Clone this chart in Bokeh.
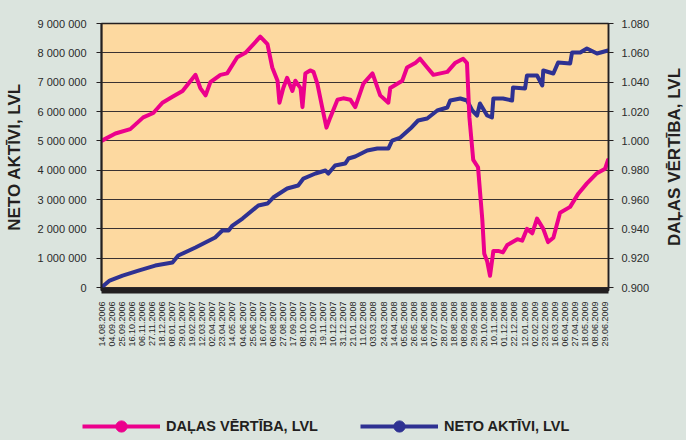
import math
from datetime import datetime
import pandas as pd
from bokeh.plotting import figure
from bokeh.layouts import column, row
from bokeh.models import (Range1d, LinearAxis, FixedTicker, CustomJSTickFormatter,
                          NumeralTickFormatter, Legend, LegendItem, ColumnDataSource,
                          GlobalInlineStyleSheet)
from bokeh.core.properties import value
from bokeh.embed import file_html
from bokeh.resources import INLINE

# ---- data ----
unit_dates = [
    "2006-08-14", "2006-09-12", "2006-10-13", "2006-11-09", "2006-11-30", "2006-12-19", "2007-01-09",
    "2007-01-30", "2007-02-11", "2007-02-26", "2007-03-08", "2007-03-19", "2007-03-29",
    "2007-04-19", "2007-05-03", "2007-05-24", "2007-06-10", "2007-06-27", "2007-07-11",
    "2007-07-26", "2007-08-05", "2007-08-16", "2007-08-20", "2007-08-28", "2007-09-05",
    "2007-09-16", "2007-09-22", "2007-10-03", "2007-10-07", "2007-10-13", "2007-10-23",
    "2007-10-30", "2007-11-07", "2007-11-17", "2007-11-26", "2007-12-04", "2007-12-19",
    "2007-12-31", "2008-01-15", "2008-01-25", "2008-02-11", "2008-03-01", "2008-03-17",
    "2008-04-03", "2008-04-07", "2008-05-02", "2008-05-12", "2008-05-29", "2008-06-08",
    "2008-06-23", "2008-07-06", "2008-08-04", "2008-08-20", "2008-09-06", "2008-09-14",
    "2008-09-19", "2008-09-27", "2008-10-07", "2008-10-16", "2008-10-20", "2008-10-26",
    "2008-11-01", "2008-11-08", "2008-11-18", "2008-11-28", "2008-12-07", "2008-12-28",
    "2009-01-07", "2009-01-17", "2009-01-28", "2009-02-07", "2009-02-20", "2009-03-02",
    "2009-03-13", "2009-03-27", "2009-04-17", "2009-05-04", "2009-05-22", "2009-06-12",
    "2009-06-29", "2009-07-05",
]
unit_values = [
    1.000, 1.005, 1.008, 1.016, 1.019, 1.026, 1.030,
    1.034, 1.039, 1.045, 1.036, 1.031, 1.040,
    1.045, 1.046, 1.057, 1.060, 1.066, 1.071,
    1.066, 1.050, 1.041, 1.026, 1.036, 1.043,
    1.034, 1.041, 1.036, 1.023, 1.046, 1.048,
    1.047, 1.039, 1.023, 1.009, 1.016, 1.028,
    1.029, 1.028, 1.023, 1.039, 1.046, 1.031,
    1.026, 1.036, 1.041, 1.050, 1.053, 1.056,
    1.050, 1.045, 1.047, 1.053, 1.056, 1.053,
    1.016, 0.987, 0.982, 0.946, 0.923, 0.918,
    0.908, 0.925, 0.925, 0.924, 0.929, 0.933,
    0.932, 0.940, 0.937, 0.947, 0.940, 0.931,
    0.934, 0.951, 0.955, 0.964, 0.971, 0.978,
    0.981, 0.987,
]

asset_dates = [
    "2006-08-14", "2006-08-31", "2006-09-27", "2006-10-30", "2006-12-04", "2007-01-09",
    "2007-01-21", "2007-02-26", "2007-04-08", "2007-04-23", "2007-05-06", "2007-05-14",
    "2007-06-04", "2007-07-07", "2007-07-26", "2007-08-07", "2007-09-05", "2007-09-28",
    "2007-10-09", "2007-11-03", "2007-11-24", "2007-11-30", "2007-12-14", "2008-01-04",
    "2008-01-11", "2008-01-25", "2008-02-19", "2008-03-11", "2008-04-03", "2008-04-11",
    "2008-04-28", "2008-05-19", "2008-06-04", "2008-06-23", "2008-07-14", "2008-08-04",
    "2008-08-10", "2008-08-31", "2008-09-14", "2008-09-25", "2008-10-05", "2008-10-11",
    "2008-10-26", "2008-11-05", "2008-11-08", "2008-11-28", "2008-12-17", "2008-12-19",
    "2009-01-13", "2009-01-17", "2009-02-07", "2009-02-18", "2009-02-20", "2009-03-13",
    "2009-03-23", "2009-04-17", "2009-04-21", "2009-05-08", "2009-05-22", "2009-06-12",
    "2009-07-05",
]
asset_values = [
    0, 239000, 409000, 580000, 750000, 852000,
    1091000, 1364000, 1705000, 1943000, 1943000, 2114000,
    2353000, 2796000, 2864000, 3069000, 3375000, 3478000,
    3716000, 3887000, 3989000, 3887000, 4160000, 4228000,
    4398000, 4466000, 4671000, 4739000, 4739000, 5012000,
    5114000, 5421000, 5694000, 5762000, 6035000, 6137000,
    6376000, 6444000, 6376000, 6035000, 5864000, 6273000,
    5864000, 5796000, 6444000, 6444000, 6376000, 6819000,
    6785000, 7228000, 7228000, 6887000, 7399000, 7296000,
    7671000, 7637000, 8012000, 8012000, 8149000, 7978000,
    8080000,
]

tick_labels = [
    "14.08.2006", "04.09.2006", "25.09.2006", "16.10.2006", "06.11.2006", "27.11.2006",
    "18.12.2006", "08.01.2007", "29.01.2007", "19.02.2007", "12.03.2007", "02.04.2007",
    "23.04.2007", "14.05.2007", "04.06.2007", "25.06.2007", "16.07.2007", "06.08.2007",
    "27.08.2007", "17.09.2007", "08.10.2007", "29.10.2007", "19.11.2007", "10.12.2007",
    "31.12.2007", "21.01.2008", "11.02.2008", "03.03.2008", "24.03.2008", "14.04.2008",
    "05.05.2008", "26.05.2008", "16.06.2008", "07.07.2008", "28.07.2008", "18.08.2008",
    "08.09.2008", "29.09.2008", "20.10.2008", "10.11.2008", "01.12.2008", "22.12.2008",
    "12.01.2009", "02.02.2009", "23.02.2009", "16.03.2009", "06.04.2009", "27.04.2009",
    "18.05.2009", "08.06.2009", "29.06.2009",
]
left_ticks = [0, 1000000, 2000000, 3000000, 4000000, 5000000, 6000000, 7000000, 8000000, 9000000]
right_ticks = [0.90, 0.92, 0.94, 0.96, 0.98, 1.00, 1.02, 1.04, 1.06, 1.08]

unit_label = "DAĻAS VĒRTĪBA, LVL"
asset_label = "NETO AKTĪVI, LVL"

# ---- styling ----
BG = "#dbe4de"
PLOT_BG = "#fdd9a0"
PINK = "#ec008c"
BLUE = "#2e3192"
DARK = "#231f20"
TXT = "#2a2a2a"
FONT = "Liberation Sans"

EPOCH = datetime(1970, 1, 1)
def ms(d):
    return (d - EPOCH).total_seconds() * 1000.0

tick_ms = [ms(datetime.strptime(t, "%d.%m.%Y")) for t in tick_labels]

unit_range = Range1d(0.898, 1.08)

p = figure(width=662, height=400, x_axis_type="datetime", output_backend="svg",
           toolbar_location=None,
           x_range=Range1d(datetime(2006, 8, 14), datetime(2009, 7, 6)),
           y_range=Range1d(-100000, 9000000),
           min_border_left=101, min_border_right=54, min_border_top=23, min_border_bottom=110)
p.extra_y_ranges = {"unit": unit_range}
p.background_fill_color = PLOT_BG
p.border_fill_color = BG
p.outline_line_color = DARK
p.outline_line_width = 1.5

p.xgrid.grid_line_color = None
p.ygrid.ticker = FixedTicker(ticks=left_ticks)
p.ygrid.grid_line_color = "#3a3232"
p.ygrid.grid_line_width = 1.2

# x axis
xa = p.below[0]
xa.ticker = FixedTicker(ticks=tick_ms)
xa.major_label_overrides = {t: s for t, s in zip(tick_ms, tick_labels)}
xa.major_label_orientation = math.pi / 2
xa.major_label_text_font = FONT
xa.major_label_text_font_size = "9px"
xa.major_label_text_color = TXT
xa.major_label_standoff = 11
xa.major_tick_out = 0
xa.major_tick_in = 0
xa.major_tick_line_color = None
xa.minor_tick_line_color = None
xa.axis_line_color = DARK
xa.axis_line_width = 6

# left axis
ya = p.left[0]
ya.ticker = FixedTicker(ticks=left_ticks)
ya.formatter = CustomJSTickFormatter(
    code="return Math.round(tick).toString().replace(/\\B(?=(\\d{3})+(?!\\d))/g, ' ');")
ya.major_label_text_font = FONT
ya.major_label_text_font_size = "11px"
ya.major_label_text_color = TXT
ya.major_tick_out = 5
ya.major_tick_in = 0
ya.major_tick_line_color = DARK
ya.minor_tick_line_color = None
ya.axis_line_color = DARK
ya.axis_line_width = 2
ya.major_label_standoff = 10
ya.axis_label = asset_label
ya.axis_label_text_font = FONT
ya.axis_label_text_font_size = "17px"
ya.axis_label_text_font_style = "bold"
ya.axis_label_text_color = DARK
ya.axis_label_standoff = 11

# right axis
ra = LinearAxis(y_range_name="unit", ticker=FixedTicker(ticks=right_ticks),
                formatter=NumeralTickFormatter(format="0.000"))
ra.major_label_text_font = FONT
ra.major_label_text_font_size = "11px"
ra.major_label_text_color = TXT
ra.major_tick_out = 5
ra.major_tick_in = 0
ra.major_tick_line_color = DARK
ra.minor_tick_line_color = None
ra.axis_line_color = DARK
ra.axis_line_width = 1.5
ra.major_label_standoff = 8
p.add_layout(ra, "right")

# series
asset_src = ColumnDataSource(dict(date=pd.to_datetime(asset_dates), value=asset_values))
unit_src = ColumnDataSource(dict(date=pd.to_datetime(unit_dates), value=unit_values))

p.line(x="date", y="value", source=asset_src, line_color=BLUE, line_width=4,
       line_join="round", line_cap="round")
p.line(x="date", y="value", source=unit_src, line_color=PINK, line_width=4,
       line_join="round", line_cap="round", y_range_name="unit")

# ---- right-hand axis title (reads bottom to top) ----
pt = figure(width=24, height=400, output_backend="svg", toolbar_location=None,
            x_range=Range1d(0, 1), y_range=unit_range,
            x_axis_location=None, y_axis_location=None,
            min_border_left=0, min_border_right=0, min_border_top=23, min_border_bottom=110)
pt.grid.grid_line_color = None
pt.outline_line_color = None
pt.background_fill_color = BG
pt.border_fill_color = BG
pt.text(x=[0.5], y=[(unit_range.start + unit_range.end) / 2], text=[unit_label],
        angle=math.pi / 2, text_align="center", text_baseline="middle",
        text_font=value(FONT), text_font_size="17px", text_font_style="bold",
        text_color=DARK)

# ---- legend strip ----
pl = figure(width=686, height=40, output_backend="svg", toolbar_location=None,
            x_range=Range1d(0, 1), y_range=Range1d(0, 1),
            x_axis_location=None, y_axis_location=None, min_border=0)
pl.grid.grid_line_color = None
pl.outline_line_color = None
pl.background_fill_color = BG
pl.border_fill_color = BG
NAN = float("nan")
pink_l = pl.line(x=[NAN, NAN], y=[NAN, NAN], line_color=PINK, line_width=4)
pink_d = pl.scatter(x=[NAN], y=[NAN], marker="circle", size=12, fill_color=PINK, line_color=PINK)
blue_l = pl.line(x=[NAN, NAN], y=[NAN, NAN], line_color=BLUE, line_width=4)
blue_d = pl.scatter(x=[NAN], y=[NAN], marker="circle", size=12, fill_color=BLUE, line_color=BLUE)

def make_legend(label, rends, loc):
    lg = Legend(items=[LegendItem(label=label, renderers=rends)], location=loc,
                orientation="horizontal", glyph_width=78, glyph_height=28,
                label_standoff=6, padding=0, margin=0, spacing=0,
                border_line_color=None, background_fill_alpha=0)
    lg.label_text_font = FONT
    lg.label_text_font_size = "14.5px"
    lg.label_text_font_style = "bold"
    lg.label_text_color = DARK
    lg.label_height = 20
    return lg

pl.add_layout(make_legend(unit_label, [pink_l, pink_d], (82, 0)))
pl.add_layout(make_legend(asset_label, [blue_l, blue_d], (360, 0)))

layout = column(row(p, pt, spacing=0), pl, spacing=0)
layout.stylesheets = [GlobalInlineStyleSheet(css="body { background-color: %s; }" % BG)]

open("out.html", "w").write(file_html(layout, INLINE))
